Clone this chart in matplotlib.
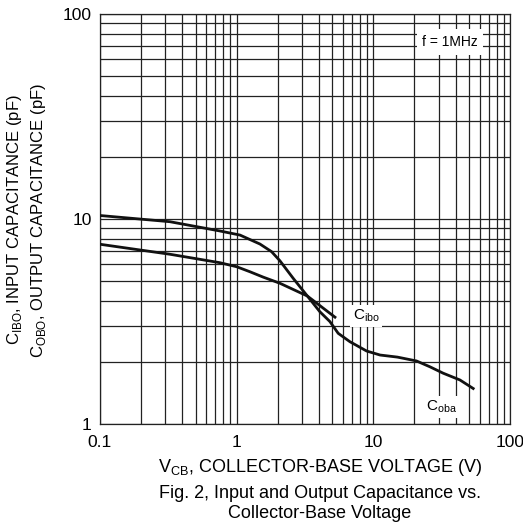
import matplotlib
matplotlib.use("Agg")
import matplotlib.pyplot as plt

plt.rcParams['font.family'] = ['Liberation Sans', 'DejaVu Sans']

# Curve starting high (steep drop, extends to ~50 V)
v_a = [0.1, 0.325, 0.755, 1.057, 1.48, 1.80, 2.07, 2.59, 3.29, 4.06, 4.81, 5.53,
       6.74, 8.93, 11.2, 15.0, 20.7, 26.0, 32.4, 43, 53.8]
c_a = [10.4, 9.7, 8.74, 8.35, 7.55, 6.93, 6.26, 5.14, 4.21, 3.53, 3.16, 2.77,
       2.52, 2.27, 2.17, 2.12, 2.03, 1.90, 1.77, 1.64, 1.49]
# Curve starting lower (gentle, ends near 5 V)
v_b = [0.1, 0.325, 0.755, 1.0, 1.25, 1.57, 2.07, 3.29, 5.24]
c_b = [7.53, 6.73, 6.12, 5.85, 5.53, 5.2, 4.86, 4.21, 3.32]

xticks = [0.1, 1, 10, 100]
xticklabels = ['0.1', '1', '10', '100']
yticks = [1, 10, 100]
yticklabels = ['1', '10', '100']

fig = plt.figure(figsize=(5.23, 5.29), dpi=100)
ax = fig.add_axes([100/523, 1-424/529, 410/523, 410/529])
ax.set_xscale('log')
ax.set_yscale('log')
ax.set_xlim(0.1, 100)
ax.set_ylim(1, 100)

ax.grid(True, which='both', color='#222222', linewidth=0.9)
ax.set_axisbelow(True)
for s in ax.spines.values():
    s.set_color('#222222')
    s.set_linewidth(0.9)

ax.plot(v_a, c_a, color='#111111', linewidth=2.0, zorder=3)
ax.plot(v_b, c_b, color='#111111', linewidth=2.0, zorder=3)

ax.set_xticks(xticks)
ax.set_xticklabels(xticklabels, fontsize=12.5)
ax.set_yticks(yticks)
ax.set_yticklabels(yticklabels, fontsize=12.5)
ax.minorticks_on()
ax.tick_params(which='both', length=0)
ax.tick_params(axis='x', pad=8)
ax.tick_params(axis='y', pad=6)
ax.xaxis.set_minor_formatter(matplotlib.ticker.NullFormatter())
ax.yaxis.set_minor_formatter(matplotlib.ticker.NullFormatter())

bbox = dict(facecolor='white', edgecolor='none', pad=2)
ax.annotate('f = 1MHz', xy=(450/523, 1-42/529), xycoords='figure fraction',
            ha='center', va='center', fontsize=10,
            bbox=dict(facecolor='white', edgecolor='none', pad=4), zorder=5)
ax.annotate(r'C$_{\mathregular{ibo}}$', xy=(366/523, 1-316/529), xycoords='figure fraction',
            ha='center', va='center', fontsize=11, bbox=bbox, zorder=5)
ax.annotate(r'C$_{\mathregular{oba}}$', xy=(441/523, 1-407/529), xycoords='figure fraction',
            ha='center', va='center', fontsize=11, bbox=bbox, zorder=5)

fig.text(320/523, 1-467/529, r'V$_{\mathregular{CB}}$, COLLECTOR-BASE VOLTAGE (V)',
         ha='center', va='center', fontsize=13)
fig.text(320/523, 1-493/529, 'Fig. 2, Input and Output Capacitance vs.',
         ha='center', va='center', fontsize=13)
fig.text(320/523, 1-514/529, 'Collector-Base Voltage',
         ha='center', va='center', fontsize=13)

fig.text(15/523, 1-220/529, r'C$_{\mathregular{IBO}}$, INPUT CAPACITANCE (pF)',
         ha='center', va='center', rotation=90, fontsize=12)
fig.text(38/523, 1-220/529, r'C$_{\mathregular{OBO}}$, OUTPUT CAPACITANCE (pF)',
         ha='center', va='center', rotation=90, fontsize=12)

fig.savefig('out.png', dpi=100)
